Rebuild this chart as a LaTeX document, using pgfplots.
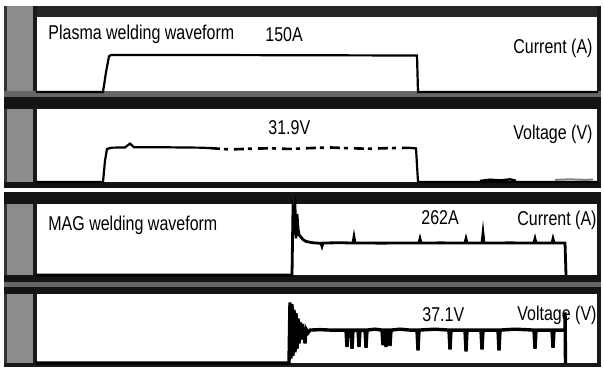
\documentclass[border=0pt]{standalone}
\usepackage{pgfplots}
\pgfplotsset{compat=1.18}
\usepackage{fontspec}
\setmainfont{Liberation Sans}[FakeStretch=0.8]
\begin{document}
\begin{tikzpicture}[x=0.5pt,y=0.5pt]
\useasboundingbox (0,0) rectangle (604,371);
\fill[white] (0,0) rectangle (604,371);
% frame and bands (scan decoration)
\fill[black!85] (4,354) rectangle (601,365);
\fill[black!45] (4,4) rectangle (36,365);
\fill[black!80] (4,4) rectangle (7,365);
\fill[black!90] (33,4) rectangle (37,365);
\fill[black!90] (597,4) rectangle (601,365);
% band 1-2
\fill[black!60] (4,274) rectangle (601,280);
\fill[black!92] (4,262) rectangle (601,274);
% band 2-3
\fill[black!92] (4,183) rectangle (601,189);
\fill[white] (4,179) rectangle (601,183);
\fill[black!92] (4,167) rectangle (601,179);
% band 3-4
\fill[black!92] (4,89) rectangle (601,96);
\fill[black!60] (4,84) rectangle (601,89);
\fill[black!92] (4,77) rectangle (601,84);
% bottom
\fill[black!90] (4,4) rectangle (601,8);
\pgfplotsset{panel/.style={scale only axis,width=281pt,axis lines=none,
  xmin=36,xmax=598,clip=false,anchor=south west}}
% Panel 1: plasma current
\begin{axis}[panel,at={(18pt,139.5pt)},height=37pt,ymin=0,ymax=300]
\addplot[black,line width=1.1pt] coordinates {
(36,0)(103,0)(106,80)(109,145)(111,150)(200,150)(300,149)(417,148)(418,0)(598,0)};
\end{axis}
% Panel 2: plasma voltage
\begin{axis}[panel,at={(18pt,94.5pt)},height=36pt,ymin=0,ymax=67.5]
\addplot[black,line width=1.1pt] coordinates {
(36,0)(103,0)(105,20)(107,31)(112,32.2)(125,32.4)(130,36)(134,32.6)(170,32.5)(200,32.2)(210,31.8)};
\addplot[black,line width=1.3pt,dash pattern=on 5pt off 2pt on 2pt off 3pt] coordinates {
(210,31.8)(230,30.5)(250,31.2)(270,31.6)(290,31.0)(310,31.8)(330,32.4)(350,31.6)(370,31.2)(390,31.8)(410,32.0)};
\addplot[black,line width=1.1pt] coordinates {
(410,32.0)(416,31.5)(418,0)(598,0)};
\addplot[black,line width=1.2pt] coordinates {
(480,1)(490,2.2)(500,1.5)(510,2.5)(516,1.2)};
\addplot[black!50,line width=1pt] coordinates {
(555,2)(570,2.5)(585,2)(593,2.3)};
\end{axis}
% Panel 3: MAG current
\begin{axis}[panel,at={(18pt,48pt)},height=35pt,ymin=0,ymax=573]
\addplot[black,line width=1.4pt] coordinates {
(36,0)(292,0)(293,550)(294,520)(295,560)(296,300)(297,500)(298,380)(299,330)(301,310)(303,290)(306,275)(310,268)(315,262)
(321,260)(322,235)(323,262)(340,264)(353,262)(354,310)(355,262)(380,261)(419,262)(420,295)(421,262)
(440,263)(465,262)(466,295)(467,262)(482,262)(483,340)(484,262)(510,263)(534,262)(535,295)(536,262)
(552,262)(553,295)(554,262)(565,262)(566,0)};
\end{axis}
% Panel 4: MAG voltage
\begin{axis}[panel,at={(18pt,4pt)},height=34pt,ymin=0,ymax=76.4]
\addplot[black,line width=1.7pt] coordinates {
(36,0)(289,0)(290,68)(291,5)(292,66)(293,8)(294,60)(295,12)(296,56)(297,16)(298,50)(299,22)(300,46)(301,26)(302,44)(303,30)(304,40)(305,22)(306,38)(308,34)(310,37)
(320,37.5)(330,37)(346,37)(347,18)(348,37)(351,37)(352,16)(353,37)(358,37)(359,18)(360,37)(365,37)(366,17)(367,37)
(375,38)(382,37)(383,20)(384,37)(385,37)(386,18)(387,37)(389,37)(390,19)(391,37)(400,38)(410,37)(417,37)(418,14)(419,37)
(435,38)(449,37)(450,15)(451,37)(465,37)(466,13)(467,37)(481,37)(482,15)(483,37)(498,37)(499,14)(500,37)
(515,38)(534,37)(535,16)(536,37)(552,37)(553,17)(554,37)(565,37)(565,57)(565.5,0)};
\end{axis}
% texts
\begin{scope}[font=\fontsize{10}{12}\selectfont]
\node[anchor=base west,inner sep=0] at (48,332) {Plasma welding waveform};
\node[anchor=base west,inner sep=0] at (265,330) {150A};
\node[anchor=base west,inner sep=0] at (513,318) {Current (A)};
\node[anchor=base west,inner sep=0] at (268,237) {31.9V};
\node[anchor=base west,inner sep=0] at (513,232) {Voltage (V)};
\node[anchor=base west,inner sep=0] at (48,141) {MAG welding waveform};
\node[anchor=base west,inner sep=0] at (421,147) {262A};
\node[anchor=base west,inner sep=0] at (517,146) {Current (A)};
\node[anchor=base west,inner sep=0] at (422,50) {37.1V};
\node[anchor=base west,inner sep=0] at (517,51) {Voltage (V)};
\end{scope}
\end{tikzpicture}
\end{document}
